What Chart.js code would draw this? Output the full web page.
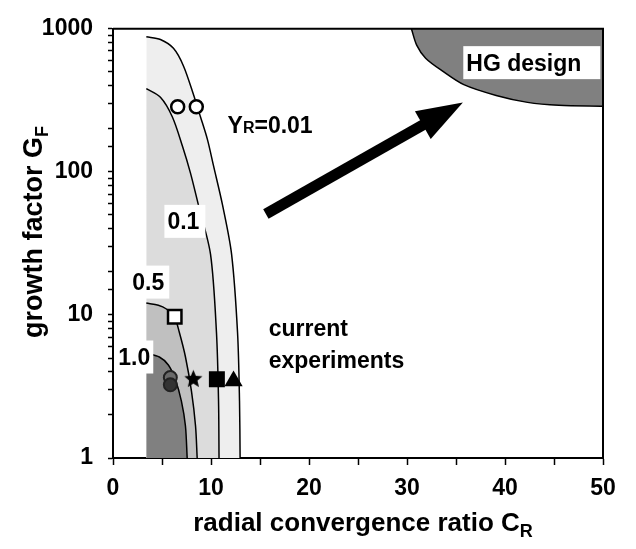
<!DOCTYPE html>
<html>
<head>
<meta charset="utf-8">
<script src="https://cdn.jsdelivr.net/npm/chart.js@4.4.0/dist/chart.umd.min.js"></script>
<style>
  body { margin: 0; background: #fff; }
</style>
</head>
<body>
<canvas id="grafico" width="636" height="549"></canvas>
<script>
// Y_R contours (x = C_R, y = G_F)
const yr001Cr = [3.4, 4.84, 6.17, 7.19, 8.21, 8.93, 9.64, 10.26, 11.18, 12.1, 12.71, 12.91, 12.97];
const yr001Gf = [880, 841, 730, 550, 347, 242, 168, 110, 58.5, 26.6, 7.5, 2.5, 1];

const yr01Cr = [3.4, 4.84, 6.06, 7.09, 7.9, 8.72, 9.95, 10.56, 10.77, 10.82];
const yr01Gf = [382, 332, 242, 151, 98.4, 58.5, 26.6, 7.5, 2.5, 1];

const yr05Cr = [3.4, 4.63, 5.45, 6.27, 6.78, 7.39, 8.01, 8.42, 8.59];
const yr05Gf = [12.1, 11.7, 11.0, 9.7, 7.5, 5.1, 2.92, 1.68, 1];

const yr10Cr = [3.4, 4.73, 5.65, 6.37, 6.98, 7.39, 7.57];
const yr10Gf = [5.4, 5.08, 4.47, 3.53, 2.5, 1.68, 1];

// HG design region boundary
const hgCr = [30.45, 31.0, 31.9, 33.6, 35.8, 39.1, 42.3, 45.5, 50];
const hgGf = [1000, 765, 623, 508, 407, 342, 306, 292, 288];

// experiments
const openCircleCr = [6.6, 8.5];
const openCircleGf = [285, 285];
const openSquareCr = [6.3];
const openSquareGf = [9.7];
const darkCircleCr = [5.85, 5.85];
const darkCircleGf = [3.65, 3.25];
const starCr = [8.2];
const starGf = [3.55];
const fullSquareCr = [10.6];
const fullSquareGf = [3.55];
const triangleCr = [12.3];
const triangleGf = [3.45];

// axis ticks
const xTicks = [0, 10, 20, 30, 40, 50];
const yTicks = [1, 10, 100, 1000];

const toPoints = (xs, ys) => xs.map((x, i) => ({ x: x, y: ys[i] }));

const fontFamily = '"Liberation Sans", Arial, Helvetica, sans-serif';

function makeStar(r) {
    const c = document.createElement('canvas');
    c.width = c.height = Math.ceil(r * 2) + 2;
    const g = c.getContext('2d');
    const cx = c.width / 2, cy = c.height / 2;
    g.beginPath();
    for (let i = 0; i < 10; i++) {
        const rad = i % 2 === 0 ? r : r * 0.45;
        const a = -Math.PI / 2 + i * Math.PI / 5;
        g.lineTo(cx + rad * Math.cos(a), cy + rad * Math.sin(a));
    }
    g.closePath();
    g.fillStyle = '#000';
    g.fill();
    return c;
}

function region(label, xs, ys, color, fill, order) {
    return {
        label: label,
        data: toPoints(xs, ys),
        showLine: true,
        fill: fill,
        backgroundColor: color,
        borderColor: '#000',
        borderWidth: 1.5,
        pointRadius: 0,
        tension: 0.3,
        order: order
    };
}

function marker(label, xs, ys, style, radius, bg, border, bw) {
    return {
        label: label,
        data: toPoints(xs, ys),
        showLine: false,
        pointStyle: style,
        pointRadius: radius,
        pointBackgroundColor: bg,
        pointBorderColor: border,
        pointBorderWidth: bw,
        order: 0
    };
}

// text placed on the plot, positions in data units
const notes = [
    { text: '0.1', cr: 5.55, gf: 45.1, pad: [3, 6] },
    { text: '0.5', cr: 1.97, gf: 16.96, pad: [4, 5] },
    { text: '1.0', cr: 0.54, gf: 5.08, pad: [4, 3] },
    { text: 'HG design', cr: 36.05, gf: 580, pad: [3, 19] }
];
const plainNotes = [
    { text: 'current', cr: 15.89, gf: 7.07 },
    { text: 'experiments', cr: 15.89, gf: 4.27 }
];
const arrowTail = { cr: 15.6, gf: 50.8 };
const arrowTip = { cr: 35.7, gf: 306 };

const extras = {
    id: 'extras',
    afterDatasetsDraw(chart) {
        const ctx = chart.ctx;
        const xs = chart.scales.x, ys = chart.scales.y;
        const a = chart.chartArea;
        ctx.save();

        // frame top and right
        ctx.strokeStyle = '#000';
        ctx.lineWidth = 2;
        ctx.beginPath();
        ctx.moveTo(a.left, a.top);
        ctx.lineTo(a.right, a.top);
        ctx.lineTo(a.right, a.bottom);
        ctx.stroke();

        ctx.font = 'bold 23px ' + fontFamily;
        ctx.textBaseline = 'alphabetic';
        ctx.textAlign = 'left';
        notes.forEach(n => {
            const px = xs.getPixelForValue(n.cr);
            const py = ys.getPixelForValue(n.gf);
            const w = ctx.measureText(n.text).width;
            ctx.fillStyle = '#fff';
            ctx.fillRect(px - n.pad[0], py - 16.5, w + n.pad[0] + n.pad[1], 33);
            ctx.fillStyle = '#000';
            ctx.fillText(n.text, px, py + 8);
        });
        plainNotes.forEach(n => {
            ctx.fillStyle = '#000';
            ctx.fillText(n.text, xs.getPixelForValue(n.cr), ys.getPixelForValue(n.gf));
        });

        // Y_R label
        let lx = xs.getPixelForValue(11.69);
        const ly = ys.getPixelForValue(188);
        ctx.fillText('Y', lx, ly);
        lx += ctx.measureText('Y').width;
        ctx.font = 'bold 16px ' + fontFamily;
        ctx.fillText('R', lx, ly);
        lx += ctx.measureText('R').width;
        ctx.font = 'bold 23px ' + fontFamily;
        ctx.fillText('=0.01', lx, ly);

        // arrow
        const x0 = xs.getPixelForValue(arrowTail.cr), y0 = ys.getPixelForValue(arrowTail.gf);
        const x1 = xs.getPixelForValue(arrowTip.cr), y1 = ys.getPixelForValue(arrowTip.gf);
        const len = Math.hypot(x1 - x0, y1 - y0);
        const ux = (x1 - x0) / len, uy = (y1 - y0) / len;
        const headLen = 46, headHalf = 16;
        const bx = x1 - ux * headLen, by = y1 - uy * headLen;
        ctx.strokeStyle = '#000';
        ctx.lineWidth = 11;
        ctx.lineCap = 'butt';
        ctx.beginPath();
        ctx.moveTo(x0, y0);
        ctx.lineTo(bx + ux * 2, by + uy * 2);
        ctx.stroke();
        ctx.fillStyle = '#000';
        ctx.beginPath();
        ctx.moveTo(x1, y1);
        ctx.lineTo(bx - uy * headHalf, by + ux * headHalf);
        ctx.lineTo(bx + uy * headHalf, by - ux * headHalf);
        ctx.closePath();
        ctx.fill();
        ctx.restore();
    },
    afterDraw(chart) {
        const ctx = chart.ctx;
        ctx.save();
        ctx.fillStyle = '#000';
        ctx.textBaseline = 'alphabetic';
        ctx.textAlign = 'left';

        // x title
        const big = 'bold 26px ' + fontFamily, small = 'bold 18px ' + fontFamily;
        ctx.font = big;
        const xt = 'radial convergence ratio C';
        const w1 = ctx.measureText(xt).width;
        ctx.font = small;
        const w2 = ctx.measureText('R').width;
        let sx = 363 - (w1 + w2) / 2;
        ctx.font = big;
        ctx.fillText(xt, sx, 531);
        ctx.font = small;
        ctx.fillText('R', sx + w1, 537);

        // y title
        ctx.translate(42, 232);
        ctx.rotate(-Math.PI / 2);
        ctx.font = 'bold 27px ' + fontFamily;
        const yt = 'growth factor G';
        const v1 = ctx.measureText(yt).width;
        ctx.font = small;
        const v2 = ctx.measureText('F').width;
        sx = -(v1 + v2) / 2;
        ctx.font = 'bold 27px ' + fontFamily;
        ctx.fillText(yt, sx, 0);
        ctx.font = small;
        ctx.fillText('F', sx + v1, 6);
        ctx.restore();
    }
};

const grafico = new Chart(document.getElementById('grafico'), {
    type: 'scatter',
    data: {
        datasets: [
            marker('dark circles', darkCircleCr, darkCircleGf, 'circle', 6.5, ['#6a6a6a', '#333'], '#222', 2),
            marker('open circles', openCircleCr, openCircleGf, 'circle', 6.5, '#fff', '#000', 2.5),
            marker('open square', openSquareCr, openSquareGf, 'rect', 9.5, '#fff', '#000', 2.5),
            marker('star', starCr, starGf, makeStar(9.5), 9.5, '#000', '#000', 0),
            marker('filled square', fullSquareCr, fullSquareGf, 'rect', 11.3, '#000', '#000', 0),
            marker('triangle', triangleCr, triangleGf, 'triangle', 10.5, '#000', '#000', 0),
            region('YR=1.0', yr10Cr, yr10Gf, '#808080', 'start', 1),
            region('YR=0.5', yr05Cr, yr05Gf, '#c0c0c0', 'start', 2),
            region('YR=0.1', yr01Cr, yr01Gf, '#dcdcdc', 'start', 3),
            region('YR=0.01', yr001Cr, yr001Gf, '#eeeeee', 'start', 4),
            region('HG design', hgCr, hgGf, '#808080', 'end', 5)
        ]
    },
    options: {
        responsive: false,
        animation: false,
        layout: { padding: { left: 0, top: 20, right: 33, bottom: 0 } },
        plugins: {
            legend: { display: false },
            tooltip: { enabled: false }
        },
        scales: {
            x: {
                type: 'linear',
                min: 0,
                max: 50,
                afterFit: s => { s.height = 91; },
                border: { display: true, color: '#000', width: 2 },
                grid: { drawOnChartArea: false, drawTicks: true, tickLength: 7, tickColor: '#000', tickWidth: 1.5 },
                ticks: {
                    stepSize: 5,
                    autoSkip: false,
                    maxRotation: 0,
                    padding: 10,
                    color: '#000',
                    font: { family: fontFamily, size: 23, weight: 'bold' },
                    callback: v => xTicks.includes(v) ? String(v) : ''
                }
            },
            y: {
                type: 'logarithmic',
                min: 1,
                max: 1000,
                afterFit: s => { s.width = 113; },
                border: { display: true, color: '#000', width: 2 },
                grid: { drawOnChartArea: false, drawTicks: true, tickLength: 5, tickColor: '#000', tickWidth: 1.5 },
                ticks: {
                    autoSkip: false,
                    padding: 15,
                    color: '#000',
                    font: { family: fontFamily, size: 23, weight: 'bold' },
                    callback: v => yTicks.includes(v) ? String(v) : ''
                }
            }
        }
    },
    plugins: [extras]
});
</script>
</body>
</html>
